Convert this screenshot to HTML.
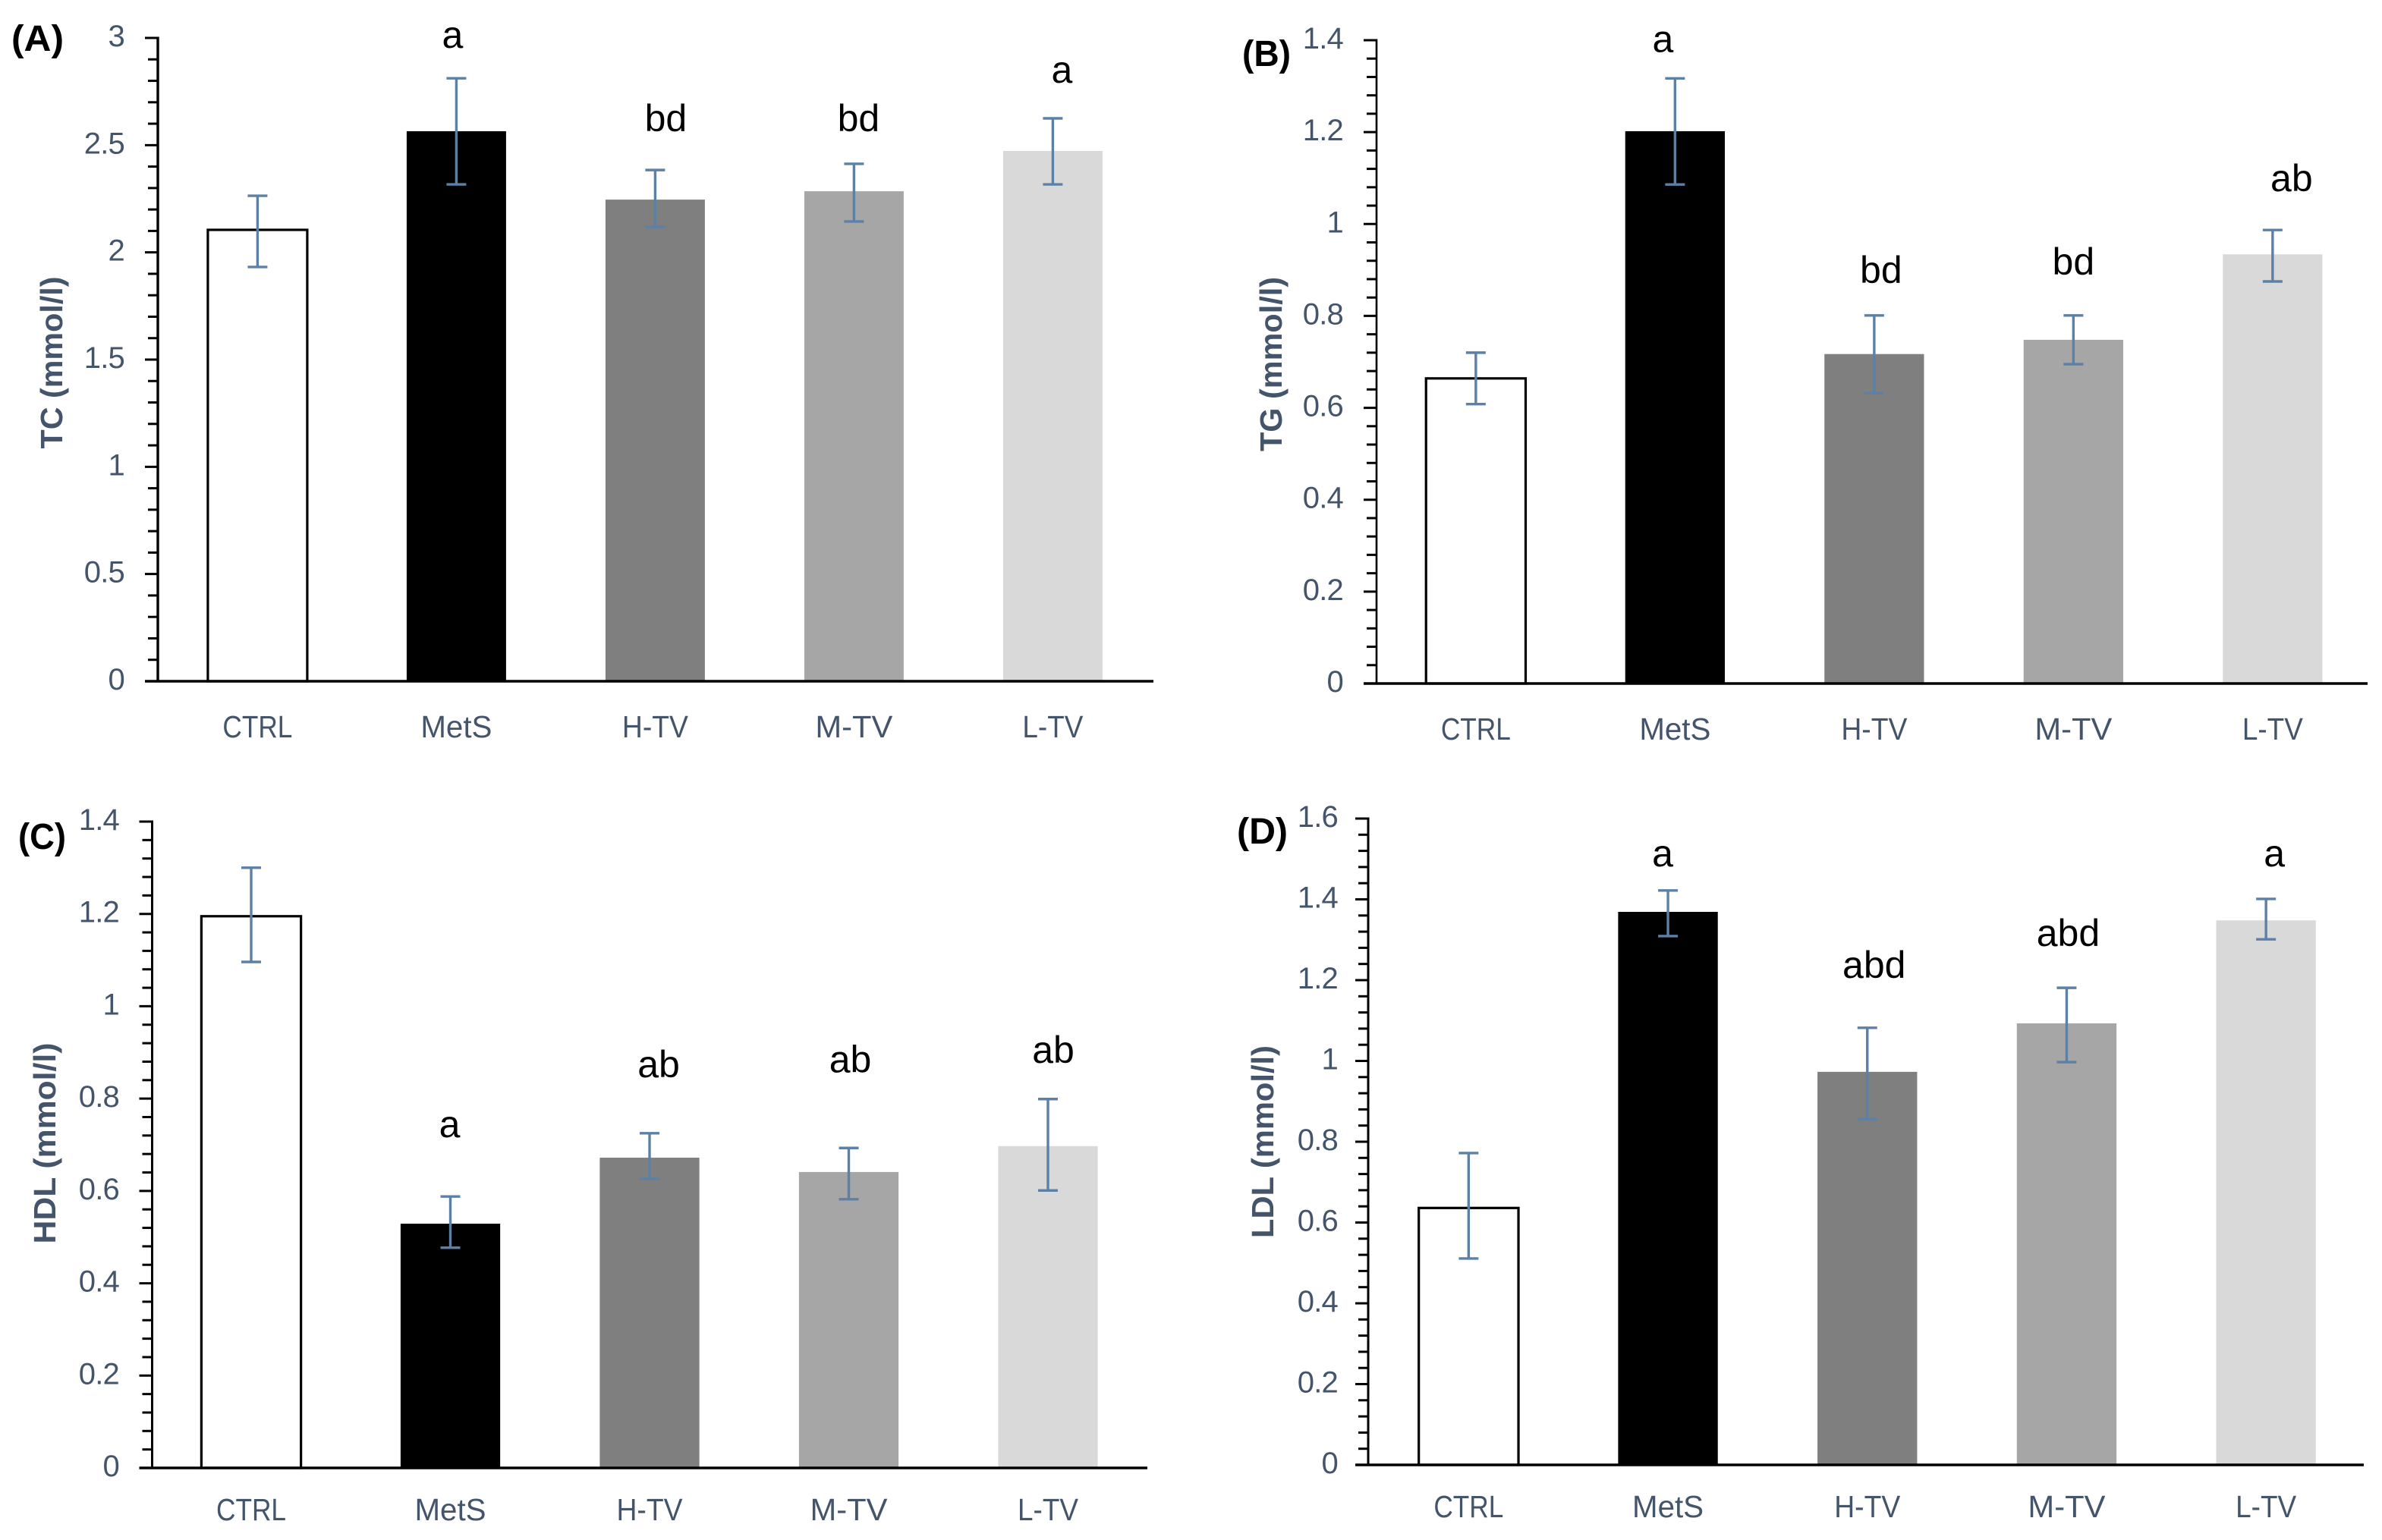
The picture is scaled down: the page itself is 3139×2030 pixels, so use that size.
<!DOCTYPE html>
<html lang="en">
<head>
<meta charset="utf-8">
<title>Serum lipid profile bar charts</title>
<style>
html,body{margin:0;padding:0;background:#fff;width:3139px;height:2030px;overflow:hidden}
svg{display:block}
text{font-family:"Liberation Sans",Arial,sans-serif}
</style>
</head>
<body>
<svg id="figure" xmlns="http://www.w3.org/2000/svg" width="3139" height="2030" viewBox="0 0 3139 2030"></svg>
<script>
// ---- data ----
const categories = ['CTRL', 'MetS', 'H-TV', 'M-TV', 'L-TV'];

const tcMeans = [2.105, 2.565, 2.246, 2.285, 2.473];
const tcHigh = [2.264, 2.812, 2.384, 2.413, 2.625];
const tcLow = [1.932, 2.317, 2.119, 2.144, 2.317];
const tcLetters = ['', 'a', 'bd', 'bd', 'a'];
const tcTicks = ['0', '0.5', '1', '1.5', '2', '2.5', '3'];

const tgMeans = [0.664, 1.202, 0.717, 0.748, 0.934];
const tgHigh = [0.720, 1.317, 0.801, 0.801, 0.987];
const tgLow = [0.608, 1.086, 0.632, 0.695, 0.875];
const tgLetters = ['', 'a', 'bd', 'bd', 'ab'];
const tgTicks = ['0', '0.2', '0.4', '0.6', '0.8', '1', '1.2', '1.4'];

const hdlMeans = [1.195, 0.529, 0.672, 0.641, 0.697];
const hdlHigh = [1.300, 0.588, 0.725, 0.693, 0.799];
const hdlLow = [1.096, 0.477, 0.626, 0.582, 0.601];
const hdlLetters = ['', 'a', 'ab', 'ab', 'ab'];
const hdlTicks = ['0', '0.2', '0.4', '0.6', '0.8', '1', '1.2', '1.4'];

const ldlMeans = [0.636, 1.369, 0.973, 1.093, 1.348];
const ldlHigh = [0.772, 1.422, 1.082, 1.181, 1.401];
const ldlLow = [0.511, 1.309, 0.856, 0.997, 1.301];
const ldlLetters = ['', 'a', 'abd', 'abd', 'a'];
const ldlTicks = ['0', '0.2', '0.4', '0.6', '0.8', '1', '1.2', '1.4', '1.6'];

// ---- styling / layout (not data) ----
const barFills = ['#ffffff', '#000000', '#7f7f7f', '#a6a6a6', '#d9d9d9'];
const categoryLabelLengths = [92, 94, 87, 102, 80];
const errorColor = '#5d81a6';
const textColor = '#44546a';

const panels = [
  { id: 'tc', tag: '(A)', tagX: 15, tagY: 67, tagLen: 69, title: 'TC (mmol/l)', titleX: 82, titleY: 478, titleLen: 227,
    axisX: 208, top: 50, bottom: 898, bandStart: 208.4, band: 262, axisEnd: 1520, axisW: 3.4, tickRight: 164, catY: 972,
    means: tcMeans, high: tcHigh, low: tcLow, letters: tcLetters, ticks: tcTicks, letterDx: [0, -5, 14, 6, 12], letterGap: [0, 40, 51, 43, 47] },
  { id: 'tg', tag: '(B)', tagX: 1637, tagY: 87, tagLen: 64, title: 'TG (mmol/l)', titleX: 1689, titleY: 480, titleLen: 230,
    axisX: 1814, top: 53, bottom: 901, bandStart: 1813.6, band: 262.5, axisEnd: 3120, axisW: 2.6, tickRight: 1770, catY: 975,
    means: tgMeans, high: tgHigh, low: tgLow, letters: tgLetters, ticks: tgTicks, letterDx: [0, -16, 9, 0, 25], letterGap: [0, 35, 43, 54, 51] },
  { id: 'hdl', tag: '(C)', tagX: 24, tagY: 1119, tagLen: 63, title: 'HDL (mmol/l)', titleX: 73, titleY: 1507, titleLen: 265,
    axisX: 200.5, top: 1083, bottom: 1935, bandStart: 199.75, band: 262.5, axisEnd: 1512, axisW: 3, tickRight: 157, catY: 2004,
    means: hdlMeans, high: hdlHigh, low: hdlLow, letters: hdlLetters, ticks: hdlTicks, letterDx: [0, -1, 12, 2, 7], letterGap: [0, 78, 74, 100, 48] },
  { id: 'ldl', tag: '(D)', tagX: 1630, tagY: 1112, tagLen: 67, title: 'LDL  (mmol/l)', titleX: 1678, titleY: 1505, titleLen: 254,
    axisX: 1803, top: 1079, bottom: 1931, bandStart: 1804, band: 262.7, axisEnd: 3115, axisW: 3, tickRight: 1763, catY: 2000,
    means: ldlMeans, high: ldlHigh, low: ldlLow, letters: ldlLetters, ticks: ldlTicks, letterDx: [0, -7, 9, 2, 11], letterGap: [0, 32, 66, 55, 43] }
];

const NS = 'http://www.w3.org/2000/svg';
const figure = document.getElementById('figure');

function make(tag, attrs, parent) {
  const node = document.createElementNS(NS, tag);
  for (const key in attrs) node.setAttribute(key, attrs[key]);
  parent.appendChild(node);
  return node;
}

function drawPanel(p) {
  const yMax = parseFloat(p.ticks[p.ticks.length - 1]);
  const y = v => p.bottom - (v / yMax) * (p.bottom - p.top);
  const x = i => p.bandStart + p.band * (i + 0.5);
  const barW = p.band * 0.5;

  const g = make('g', {}, figure);
  
  

  // panel tag
  const tag = make('text', { x: p.tagX, y: p.tagY, 'font-size': 48, 'font-weight': 'bold', fill: '#000', textLength: p.tagLen, lengthAdjust: 'spacingAndGlyphs' }, g);
  tag.textContent = p.tag;
  
  

  // y-axis title
  const title = make('text', { transform: 'translate(' + p.titleX + ',' + p.titleY + ') rotate(-90)', 'text-anchor': 'middle', 'font-size': 41, 'font-weight': 'bold', fill: textColor, textLength: p.titleLen, lengthAdjust: 'spacingAndGlyphs' }, g);
  title.textContent = p.title;
  
  

  // bars
  categories.forEach((cat, i) => {
    const isOutlined = barFills[i] === '#ffffff';
    const bar = make('rect', {
      x: x(i) - barW / 2, y: y(p.means[i]), width: barW, height: p.bottom - y(p.means[i]),
      fill: barFills[i], stroke: isOutlined ? '#000' : 'none', 'stroke-width': isOutlined ? 3.2 : 0
    }, g);
    
    
  });

  // y ticks: five minor divisions per labelled step
  const step = parseFloat(p.ticks[1]);
  const tickCount = Math.round(yMax / step) * 5;
  for (let k = 0; k <= tickCount; k++) {
    const v = (k / tickCount) * yMax;
    const major = k % 5 === 0;
    const tick = make('line', { x1: p.axisX - (major ? 17 : 13), x2: p.axisX, y1: y(v), y2: y(v), stroke: '#000', 'stroke-width': 3 }, g);
    
    
  }

  // tick labels
  p.ticks.forEach(label => {
    const t = make('text', { x: p.tickRight, y: y(parseFloat(label)) + 11, 'text-anchor': 'end', 'font-size': 40, 'letter-spacing': '-0.8', fill: textColor }, g);
    t.textContent = label;
    
    
  });

  // axes
  const yAxis = make('line', { x1: p.axisX, x2: p.axisX, y1: p.top - 1.5, y2: p.bottom, stroke: '#000', 'stroke-width': p.axisW }, g);
  
  
  const xAxis = make('line', { x1: p.axisX - 17, x2: p.axisEnd, y1: p.bottom, y2: p.bottom, stroke: '#000', 'stroke-width': 3.6 }, g);
  
  

  // error bars, category labels, significance letters
  categories.forEach((cat, i) => {
    const hiY = y(p.high[i]);
    const loY = y(p.low[i]);
    const err = make('path', {
      d: 'M' + x(i) + ' ' + hiY + 'V' + loY + 'M' + (x(i) - 13) + ' ' + hiY + 'H' + (x(i) + 13) + 'M' + (x(i) - 13) + ' ' + loY + 'H' + (x(i) + 13),
      fill: 'none', stroke: errorColor, 'stroke-width': 3.4
    }, g);
    
    

    const catLabel = make('text', { x: x(i), y: p.catY, 'text-anchor': 'middle', 'font-size': 41, fill: textColor, textLength: categoryLabelLengths[i], lengthAdjust: 'spacingAndGlyphs' }, g);
    catLabel.textContent = cat;
    
    

    if (p.letters[i]) {
      const letter = make('text', { x: x(i) + p.letterDx[i], y: hiY - p.letterGap[i], 'text-anchor': 'middle', 'font-size': 50, fill: '#000' }, g);
      letter.textContent = p.letters[i];
      
      
    }
  });
}

panels.forEach(drawPanel);
</script>
</body>
</html>
